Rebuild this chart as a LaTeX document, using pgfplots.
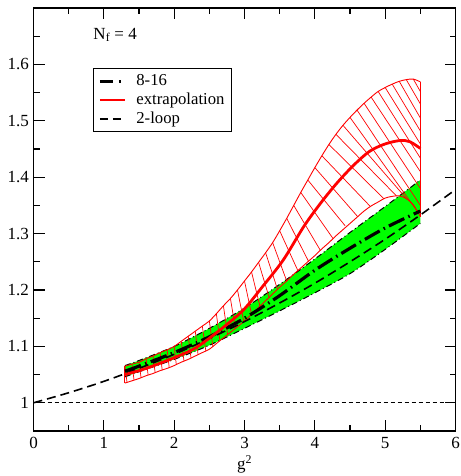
\documentclass[border=0pt]{standalone}
\usepackage{fontspec}
\setmainfont{Liberation Serif}
\usepackage{pgfplots}
\pgfplotsset{compat=1.18}
\usepackage{pgfplotstable}
\usepgfplotslibrary{fillbetween}

\pgfplotstableread{
x hi lo
1.3 1.065 1.035
1.4 1.0685 1.039
1.5 1.072 1.043
1.6 1.078 1.048
1.7 1.083 1.052
1.8 1.089 1.057
1.9 1.094 1.061
2.0 1.100 1.066
2.1 1.109 1.072
2.2 1.118 1.077
2.3 1.127 1.083
2.4 1.136 1.089
2.5 1.145 1.095
2.6 1.158 1.105
2.7 1.172 1.115
2.8 1.185 1.125
2.9 1.200 1.135
3.0 1.216 1.145
3.1 1.232 1.157
3.2 1.249 1.169
3.3 1.266 1.181
3.4 1.284 1.193
3.5 1.305 1.205
3.6 1.327 1.216
3.7 1.350 1.228
3.8 1.373 1.239
3.9 1.395 1.250
4.0 1.417 1.261
4.1 1.438 1.273
4.2 1.458 1.284
4.3 1.476 1.296
4.4 1.492 1.307
4.5 1.506 1.318
4.6 1.519 1.329
4.7 1.531 1.340
4.8 1.542 1.349
4.9 1.552 1.356
5.0 1.559 1.363
5.1 1.565 1.366
5.2 1.570 1.367
5.3 1.573 1.362
5.4 1.574 1.351
5.5 1.569 1.330
}\redband

\pgfplotstableread{
x y u v
1.3 1.065 0.03 -0.029
1.4 1.0685 0.03 -0.0285
1.5 1.072 0.03 -0.028
1.6 1.078 0.03 -0.029
1.7 1.083 0.03 -0.030
1.8 1.089 0.03 -0.031
1.9 1.094 0.03 -0.032
2.0 1.100 0.03 -0.032
2.1 1.109 0.04 -0.035
2.2 1.118 0.04 -0.039
2.3 1.127 0.04 -0.042
2.4 1.136 0.05 -0.044
2.5 1.145 0.05 -0.045
2.6 1.158 0.05 -0.048
2.7 1.172 0.06 -0.051
2.8 1.185 0.07 -0.053
2.9 1.200 0.09 -0.056
3.0 1.216 0.10 -0.059
3.1 1.232 0.12 -0.061
3.2 1.249 0.15 -0.062
3.3 1.266 0.17 -0.065
3.4 1.284 0.20 -0.068
3.5 1.305 0.26 -0.071
3.6 1.327 0.31 -0.076
3.7 1.350 0.38 -0.080
3.8 1.373 0.46 -0.082
3.9 1.395 0.53 -0.081
4.0 1.417 0.61 -0.087
4.1 1.438 0.69 -0.090
4.2 1.458 0.78 -0.096
4.3 1.476 0.86 -0.109
4.4 1.492 0.91 -0.131
4.5 1.506 0.96 -0.167
4.6 1.519 0.90 -0.169
4.7 1.531 0.80 -0.151
4.8 1.542 0.70 -0.132
4.9 1.552 0.60 -0.118
5.0 1.559 0.50 -0.100
5.1 1.565 0.40 -0.083
5.2 1.570 0.30 -0.065
5.3 1.573 0.20 -0.043
5.4 1.574 0.10 -0.022
}\hatch

\pgfplotstableread{
x lo hi mid
1.3 1.046 1.066 1.056
1.5 1.055 1.075 1.065
2.0 1.077 1.100 1.089
2.5 1.102 1.132 1.117
3.0 1.132 1.168 1.150
3.5 1.163 1.210 1.190
4.0 1.195 1.255 1.235
4.5 1.229 1.302 1.274
5.0 1.272 1.348 1.310
5.5 1.318 1.395 1.340
}\greenband

\begin{document}
\fontsize{17}{20}\selectfont
\begin{tikzpicture}
\begin{axis}[
  width=422pt, height=423pt, scale only axis,
  xmin=0, xmax=6, ymin=0.95, ymax=1.7,
  xtick={0,1,2,3,4,5,6},
  minor xtick={0.5,1.5,2.5,3.5,4.5,5.5},
  ytick={1,1.1,1.2,1.3,1.4,1.5,1.6},
  minor ytick={1.05,1.15,1.25,1.35,1.45,1.55,1.65},
  tick align=inside,
  major tick length=11pt, minor tick length=6pt,
  tick style={black, line width=1.2pt},
  axis line style={line width=1.5pt},
  /pgf/number format/assume math mode=true,
  tick label style={font=\fontsize{17}{20}\selectfont},
  yticklabel style={inner sep=0pt, xshift=-4.5pt},
  xticklabel style={inner sep=0pt, yshift=-6pt},
  xlabel={g\textsuperscript{2}},
  xlabel style={font=\fontsize{17}{20}\selectfont, at={(axis description cs:0.5,0)}, anchor=north, inner sep=0pt, yshift=-24pt},
  legend image code/.code={\draw[#1] (0pt,0pt) -- (25pt,0pt);},
  legend cell align=left,
  legend style={at={(0.1417,0.8575)}, anchor=north west, draw=black, line width=0.8pt,
    font=\fontsize{16.7}{19}\selectfont, inner xsep=4.7pt, inner ysep=3pt,
    column sep=8pt, row sep=0pt,
    nodes={inner sep=2pt, text height=11.5pt, text depth=3.5pt}},
]
\coordinate (bl) at (rel axis cs:0,0);
\coordinate (tr) at (rel axis cs:1,1);

\addlegendimage{black, line width=3pt, dash pattern=on 13pt off 6pt on 2pt off 6pt}
\addlegendentry{8-16}
\addlegendimage{red, line width=2.5pt}
\addlegendentry{extrapolation}
\addlegendimage{black, line width=1.6pt, dash pattern=on 8pt off 5pt}
\addlegendentry{2-loop}

% green band
\addplot[draw=none, name path=glo, smooth, forget plot] table[x=x,y=lo]{\greenband};
\addplot[draw=none, name path=ghi, smooth, forget plot] table[x=x,y=hi]{\greenband};
\addplot[fill=green, draw=none, forget plot] fill between[of=glo and ghi];
\addplot[black, line width=1pt, dash pattern=on 6pt off 3pt on 1pt off 3pt, smooth, forget plot] table[x=x,y=lo]{\greenband};
\addplot[black, line width=1pt, dash pattern=on 6pt off 3pt on 1pt off 3pt, smooth, forget plot] table[x=x,y=hi]{\greenband};

% red hatched band
\addplot[red, line width=0.7pt, forget plot,
  quiver={u=\thisrow{u}, v=\thisrow{v}, every arrow/.append style={-}}]
  table[x=x,y=y]{\hatch};
\addplot[red, line width=0.9pt, smooth, forget plot] table[x=x,y=hi]{\redband};
\addplot[red, line width=0.9pt, smooth, forget plot] table[x=x,y=lo]{\redband};
\addplot[red, line width=0.9pt, forget plot] coordinates {(1.3,1.035)(1.3,1.065)};
\addplot[red, line width=0.9pt, forget plot] coordinates {(5.5,1.330)(5.5,1.569)};

% horizontal line at 1
\addplot[black, line width=0.8pt, dash pattern=on 4pt off 3pt, forget plot] coordinates {(0,1)(6,1)};

% 2-loop
\addplot[black, line width=1.6pt, dash pattern=on 9pt off 5pt, smooth, forget plot] coordinates {
(0,1.0)(0.5,1.0178)(1,1.038)(1.5,1.061)(2,1.086)(2.5,1.114)(3,1.144)(3.5,1.177)(4,1.212)(4.5,1.250)(5,1.290)(5.5,1.333)(6,1.378)};

% 8-16 central
\addplot[black, line width=3.2pt, dash pattern=on 17pt off 4.5pt on 1.5pt off 4.5pt, smooth, forget plot] table[x=x,y=mid]{\greenband};

% extrapolation central
\addplot[red, line width=2.8pt, smooth, forget plot] coordinates {
(1.3,1.050)(1.6,1.061)(2.0,1.080)(2.3,1.097)(2.65,1.129)(2.98,1.164)(3.25,1.205)(3.55,1.253)(3.84,1.312)(4.07,1.352)(4.31,1.389)(4.55,1.421)(4.78,1.446)(5.0,1.459)(5.21,1.465)(5.35,1.463)(5.5,1.451)};

\node[anchor=base west, inner sep=0pt, font=\fontsize{17}{20}\selectfont] at (axis cs:0.85,1.645) {N\textsubscript{f} = 4};
\end{axis}
\pgfresetboundingbox
\useasboundingbox ([shift={(-33.5pt,-45pt)}]bl) rectangle ([shift={(4.5pt,8pt)}]tr);
\end{tikzpicture}
\end{document}
